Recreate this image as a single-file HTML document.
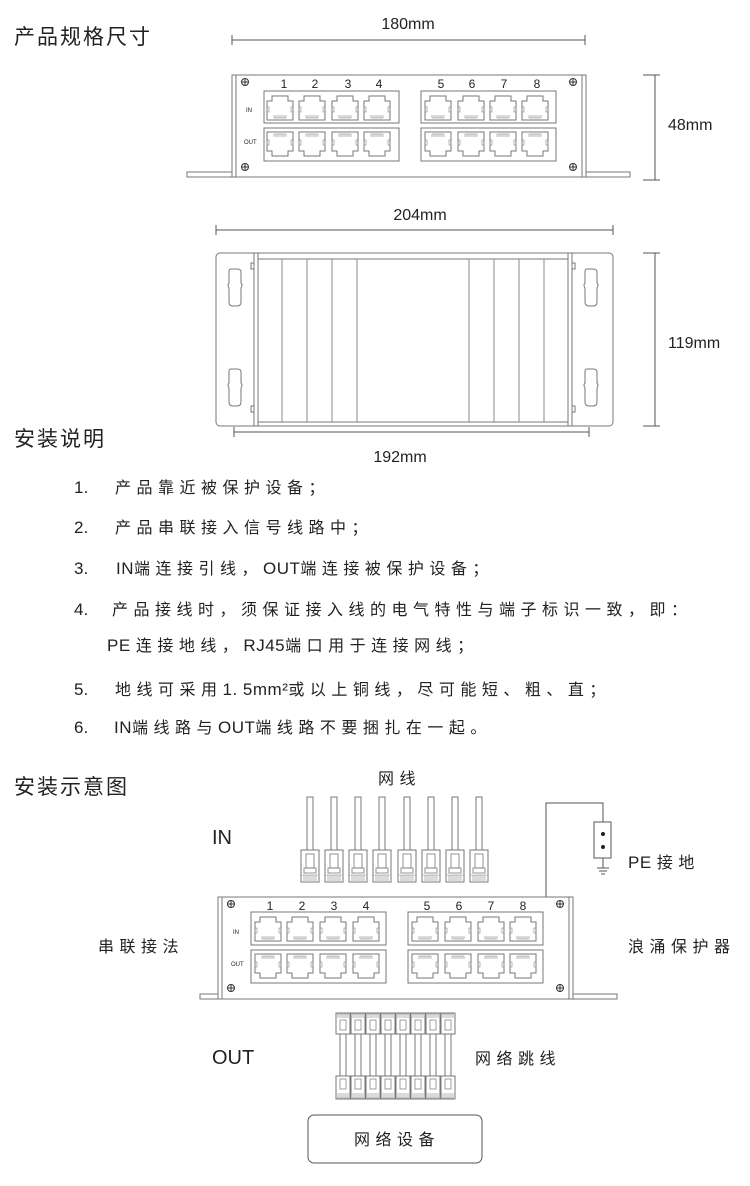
<!DOCTYPE html>
<html><head><meta charset="utf-8">
<style>
html,body{margin:0;padding:0;background:#fff;}
svg{display:block;}
.t{font-family:"Liberation Sans","Noto Sans CJK SC",sans-serif;fill:#222;}
.cn{font-family:"Liberation Sans","Noto Sans CJK SC",sans-serif;fill:#222;font-size:16px;letter-spacing:5.5px;}
.l{letter-spacing:0.5px;font-size:17px;}
</style></head><body>
<svg width="750" height="1186" viewBox="0 0 750 1186" xmlns="http://www.w3.org/2000/svg">
<defs>
<g id="pin"><path d="M3,8 H8 V3 H24 V8 H29 V27 H3 Z" fill="none" stroke="#777" stroke-width="1"/>
<rect x="3" y="14" width="2" height="5" fill="none" stroke="#888" stroke-width="0.6"/><rect x="27" y="14" width="2" height="5" fill="none" stroke="#888" stroke-width="0.6"/>
<path d="M10,22 v3 M12,22 v3 M14,22 v3 M16,22 v3 M18,22 v3 M20,22 v3 M22,22 v3 M10,25 H22" stroke="#888" stroke-width="0.6"/></g>
<g id="pout"><use href="#pin" transform="translate(0,30) scale(1,-1)"/></g>
<g id="plugIn"><rect x="-3" y="0" width="6" height="53" fill="#fff" stroke="#777"/><rect x="-9" y="53" width="18" height="32" fill="#fff" stroke="#777"/><rect x="-4" y="57" width="8" height="14" fill="none" stroke="#777" stroke-width="0.8"/><path d="M-6,71 H6 V76 H-6 Z" fill="none" stroke="#777" stroke-width="0.8"/><path d="M-8,78 H8 M-6,78 v6 M-4,78 v6 M-2,78 v6 M0,78 v6 M2,78 v6 M4,78 v6 M6,78 v6" stroke="#888" stroke-width="0.6"/></g>
<g id="cord"><rect x="-7" y="0" width="14" height="21" fill="#fff" stroke="#777"/><path d="M-6,1 H6 M-5,1 v4 M-3,1 v4 M-1,1 v4 M1,1 v4 M3,1 v4 M5,1 v4" stroke="#888" stroke-width="0.6"/><rect x="-3" y="7" width="6" height="10" fill="none" stroke="#777" stroke-width="0.7"/>
<rect x="-3" y="21" width="6" height="42" fill="#fff" stroke="#777"/>
<rect x="-7" y="63" width="14" height="23" fill="#fff" stroke="#777"/><rect x="-3" y="66" width="6" height="10" fill="none" stroke="#777" stroke-width="0.7"/><path d="M-6,85 H6 M-5,80 v5 M-3,80 v5 M-1,80 v5 M1,80 v5 M3,80 v5 M5,80 v5" stroke="#888" stroke-width="0.6"/></g>
<g id="screw"><circle r="3.5" fill="none" stroke="#333" stroke-width="1"/><path d="M-3.5,0 H3.5 M0,-3.5 V3.5" stroke="#333" stroke-width="1"/></g>
<g id="slot"><path d="M-4,0 Q-6,0 -6,3 V14 Q-8,16 -6,19 V33 Q-6,37 -2,37 H2 Q6,37 6,33 V19 Q8,16 6,14 V3 Q6,0 2,0 Z" fill="none" stroke="#777" stroke-width="1"/></g>
</defs>

<!-- Section 1 -->
<text class="t" x="14" y="44" font-size="21" letter-spacing="2">产品规格尺寸</text>
<text class="t" x="408" y="29" font-size="16" text-anchor="middle">180mm</text>
<path d="M232,40 H585 M232,35 V45 M585,35 V45" stroke="#555" fill="none"/>
<path d="M643,75 H660 M643,180 H660 M655,75 V180" stroke="#555" fill="none"/>
<text class="t" x="668" y="130" font-size="16">48mm</text>

<g stroke="#777" fill="#fff">
<rect x="187" y="172" width="45" height="5"/><rect x="586" y="172" width="44" height="5"/>
<rect x="232" y="75" width="354" height="102"/>
<path d="M236,75 V177 M582,75 V177" fill="none"/>
<rect x="264" y="91" width="135" height="32"/><rect x="264" y="128" width="135" height="33"/>
<rect x="421" y="91" width="135" height="32"/><rect x="421" y="128" width="135" height="33"/>
</g>
<g>
<use href="#pin" x="264" y="93"/><use href="#pin" x="296" y="93"/><use href="#pin" x="329" y="93"/><use href="#pin" x="361" y="93"/>
<use href="#pin" x="422" y="93"/><use href="#pin" x="455" y="93"/><use href="#pin" x="487" y="93"/><use href="#pin" x="519" y="93"/>
<use href="#pout" x="264" y="129"/><use href="#pout" x="296" y="129"/><use href="#pout" x="329" y="129"/><use href="#pout" x="361" y="129"/>
<use href="#pout" x="422" y="129"/><use href="#pout" x="455" y="129"/><use href="#pout" x="487" y="129"/><use href="#pout" x="519" y="129"/>
</g>
<g class="t" font-size="12" text-anchor="middle">
<text x="284" y="88">1</text><text x="315" y="88">2</text><text x="348" y="88">3</text><text x="379" y="88">4</text>
<text x="441" y="88">5</text><text x="472" y="88">6</text><text x="504" y="88">7</text><text x="537" y="88">8</text>
</g>
<text class="t" x="246" y="112" font-size="6">IN</text><text class="t" x="244" y="144" font-size="6">OUT</text>
<use href="#screw" x="245" y="82"/><use href="#screw" x="573" y="82"/><use href="#screw" x="245" y="167"/><use href="#screw" x="573" y="167"/>

<!-- Section 2 -->
<text class="t" x="420" y="220" font-size="16" text-anchor="middle">204mm</text>
<path d="M216,230 H613 M216,225 V235 M613,225 V235" stroke="#555" fill="none"/>
<path d="M643,253 H660 M643,426 H660 M655,253 V426" stroke="#555" fill="none"/>
<text class="t" x="668" y="348" font-size="16">119mm</text>
<g stroke="#777" fill="#fff">
<rect x="216" y="253" width="397" height="173" rx="4"/>
<rect x="254" y="253" width="318" height="173"/>
<path d="M258,253 V426 M568,253 V426 M258,259 H568 M258,422 H568" fill="none"/>
<path d="M282,259 V422 M307,259 V422 M332,259 V422 M357,259 V422 M469,259 V422 M494,259 V422 M519,259 V422 M544,259 V422" fill="none" stroke="#888"/>
<rect x="251" y="263" width="3" height="6"/><rect x="251" y="406" width="3" height="6"/>
<rect x="572" y="263" width="3" height="6"/><rect x="572" y="406" width="3" height="6"/>
</g>
<use href="#slot" x="235" y="269"/><use href="#slot" x="235" y="369"/><use href="#slot" x="591" y="269"/><use href="#slot" x="591" y="369"/>
<path d="M234,432 H589 M234,427 V437 M589,427 V437" stroke="#555" fill="none"/>
<text class="t" x="400" y="462" font-size="16" text-anchor="middle">192mm</text>

<!-- Section 3 -->
<text class="t" x="14" y="446" font-size="21" letter-spacing="2">安装说明</text>
<g class="t" font-size="17">
<text x="74" y="493">1.</text><text x="74" y="533">2.</text><text x="74" y="574">3.</text>
<text x="74" y="615">4.</text><text x="74" y="695">5.</text><text x="74" y="733">6.</text>
</g>
<text class="cn" x="115" y="493">产品靠近被保护设备；</text>
<text class="cn" x="115" y="533">产品串联接入信号线路中；</text>
<text class="cn" x="116" y="574"><tspan class="l">IN</tspan>端连接引线，<tspan class="l">OUT</tspan>端连接被保护设备；</text>
<text class="cn" x="112" y="615">产品接线时，须保证接入线的电气特性与端子标识一致，即：</text>
<text class="cn" x="107" y="651"><tspan class="l">PE </tspan> 连接地线，<tspan class="l">RJ45</tspan>端口用于连接网线；</text>
<text class="cn" x="115" y="695">地线可采用<tspan class="l">1. 5mm²</tspan>或以上铜线，尽可能短、粗、直；</text>
<text class="cn" x="114" y="733"><tspan class="l">IN</tspan>端线路与<tspan class="l">OUT</tspan>端线路不要捆扎在一起。</text>

<!-- Section 4 -->
<text class="t" x="14" y="794" font-size="21" letter-spacing="2">安装示意图</text>
<text class="cn" x="378" y="784" font-size="15">网线</text>
<text class="t" x="212" y="844" font-size="20">IN</text>
<text class="t" x="212" y="1064" font-size="20">OUT</text>
<text class="cn" x="628" y="868"><tspan class="l">PE </tspan> 接地</text>
<text class="cn" x="98" y="952">串联接法</text>
<text class="cn" x="628" y="952">浪涌保护器</text>
<text class="cn" x="475" y="1064">网络跳线</text>

<g>
<use href="#plugIn" x="310" y="797"/><use href="#plugIn" x="334" y="797"/><use href="#plugIn" x="358" y="797"/><use href="#plugIn" x="382" y="797"/>
<use href="#plugIn" x="407" y="797"/><use href="#plugIn" x="431" y="797"/><use href="#plugIn" x="455" y="797"/><use href="#plugIn" x="479" y="797"/>
</g>
<path d="M546,897 V803 H603 V822" stroke="#555" fill="none"/>
<rect x="594" y="822" width="17" height="36" fill="#fff" stroke="#555"/>
<circle cx="603" cy="834" r="2" fill="#222"/><circle cx="603" cy="847" r="2" fill="#222"/>
<path d="M603,858 V868 M597,868 H609 M599,871 H607 M601,874 H605" stroke="#555" fill="none"/>

<g stroke="#777" fill="#fff">
<rect x="200" y="994" width="18" height="5"/><rect x="573" y="994" width="44" height="5"/>
<rect x="218" y="897" width="355" height="102"/>
<path d="M222,897 V999 M569,897 V999" fill="none"/>
<rect x="251" y="912" width="135" height="33"/><rect x="251" y="950" width="135" height="33"/>
<rect x="408" y="912" width="135" height="33"/><rect x="408" y="950" width="135" height="33"/>
</g>
<g>
<use href="#pin" x="252" y="914"/><use href="#pin" x="284" y="914"/><use href="#pin" x="317" y="914"/><use href="#pin" x="350" y="914"/>
<use href="#pin" x="409" y="914"/><use href="#pin" x="442" y="914"/><use href="#pin" x="475" y="914"/><use href="#pin" x="507" y="914"/>
<use href="#pout" x="252" y="951"/><use href="#pout" x="284" y="951"/><use href="#pout" x="317" y="951"/><use href="#pout" x="350" y="951"/>
<use href="#pout" x="409" y="951"/><use href="#pout" x="442" y="951"/><use href="#pout" x="475" y="951"/><use href="#pout" x="507" y="951"/>
</g>
<g class="t" font-size="12" text-anchor="middle">
<text x="270" y="910">1</text><text x="302" y="910">2</text><text x="334" y="910">3</text><text x="366" y="910">4</text>
<text x="427" y="910">5</text><text x="459" y="910">6</text><text x="491" y="910">7</text><text x="523" y="910">8</text>
</g>
<text class="t" x="233" y="934" font-size="6">IN</text><text class="t" x="231" y="966" font-size="6">OUT</text>
<use href="#screw" x="231" y="904"/><use href="#screw" x="560" y="904"/><use href="#screw" x="231" y="988"/><use href="#screw" x="560" y="988"/>

<g>
<use href="#cord" x="343" y="1013"/><use href="#cord" x="358" y="1013"/><use href="#cord" x="373" y="1013"/><use href="#cord" x="388" y="1013"/>
<use href="#cord" x="403" y="1013"/><use href="#cord" x="418" y="1013"/><use href="#cord" x="433" y="1013"/><use href="#cord" x="448" y="1013"/>
</g>
<rect x="308" y="1115" width="174" height="48" rx="6" fill="#fff" stroke="#555"/>
<text class="cn" x="397" y="1145" text-anchor="middle">网络设备</text>
</svg>
</body></html>
